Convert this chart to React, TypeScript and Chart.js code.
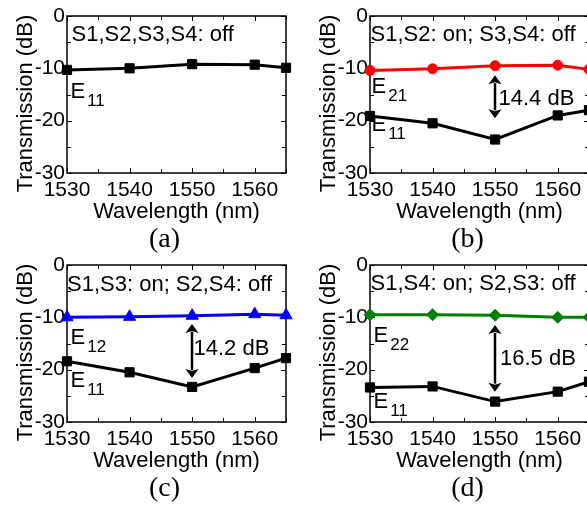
import React, { useEffect, useRef } from "react";
import { Chart, registerables } from "chart.js";

Chart.register(...registerables);

// ---------- data ----------
const wavelengths = [1530, 1540, 1550, 1560, 1565];
const xTickValues = [1530, 1540, 1550, 1560];
const yTickValues = [0, -10, -20, -30];

const aE11 = [-10.3, -10.0, -9.2, -9.3, -9.9];
const bE21 = [-10.4, -10.1, -9.5, -9.4, -10.2];
const bE11 = [-19.1, -20.5, -23.6, -19.0, -18.0];
const cE12 = [-10.0, -9.9, -9.7, -9.4, -9.6];
const cE11 = [-18.4, -20.5, -23.3, -19.7, -17.8];
const dE22 = [-9.5, -9.5, -9.6, -10.0, -10.0];
const dE11 = [-23.4, -23.2, -26.1, -24.2, -22.3];

const captions = ["(a)", "(b)", "(c)", "(d)"];
const conditions = [
  "S1,S2,S3,S4: off",
  "S1,S2: on; S3,S4: off",
  "S1,S3: on; S2,S4: off",
  "S1,S4: on; S2,S3: off",
];
const gapLabels = ["", "14.4 dB", "14.2 dB", "16.5 dB"];
const gapTop = [0, -11.3, -11.25, -11.45];
const gapBottom = [0, -19.55, -21.6, -24.2];

const X_MIN = 1530;
const X_MAX = 1565;
const Y_MIN = -30;
const Y_MAX = 0;

const SANS = "'Liberation Sans', Arial, sans-serif";
const SERIF = "'Liberation Serif', 'Times New Roman', serif";

type Series = {
  sub: string;
  values: number[];
  color: string;
  style: string;
  radius: number;
  labelAt: [number, number];
};

type Panel = {
  left: number;
  top: number;
  series: Series[];
  condAt: [number, number];
  gapAt: [number, number];
};

const panels: Panel[] = [
  {
    left: 0,
    top: 0,
    series: [
      { sub: "11", values: aE11, color: "#000000", style: "rect", radius: 6.5, labelAt: [1530.56, -15.67] },
    ],
    condAt: [1530.72, -4.87],
    gapAt: [0, 0],
  },
  {
    left: 303,
    top: 0,
    series: [
      { sub: "21", values: bE21, color: "#ff0000", style: "circle", radius: 5, labelAt: [1530.24, -14.7] },
      { sub: "11", values: bE11, color: "#000000", style: "rect", radius: 6.5, labelAt: [1530.24, -21.97] },
    ],
    condAt: [1530.08, -4.87],
    gapAt: [1550.54, -17.0],
  },
  {
    left: 0,
    top: 249,
    series: [
      { sub: "12", values: cE12, color: "#0000ff", style: "triangle", radius: 7, labelAt: [1530.56, -15.1] },
      { sub: "11", values: cE11, color: "#000000", style: "rect", radius: 6.5, labelAt: [1530.56, -23.3] },
    ],
    condAt: [1530.0, -5.06],
    gapAt: [1550.22, -17.2],
  },
  {
    left: 303,
    top: 249,
    series: [
      { sub: "22", values: dE22, color: "#008000", style: "rectRot", radius: 6, labelAt: [1530.56, -14.7] },
      { sub: "11", values: dE11, color: "#000000", style: "rect", radius: 6.5, labelAt: [1530.56, -27.3] },
    ],
    condAt: [1530.08, -4.78],
    gapAt: [1550.78, -19.1],
  },
];

const CANVAS_W = 300;
const CANVAS_H = 256;

function ChartPanel({ index }: { index: number }) {
  const ref = useRef<HTMLCanvasElement | null>(null);
  const panel = panels[index];

  useEffect(() => {
    const canvas = ref.current;
    if (!canvas) return;

    const decor = {
      id: "decor" + index,
      beforeDatasetsDraw(chart: any) {
        const ctx = chart.ctx as CanvasRenderingContext2D;
        const a = chart.chartArea;
        const xs = chart.scales.x;
        const ys = chart.scales.y;
        ctx.save();
        ctx.strokeStyle = "#000";
        ctx.lineWidth = 1.5;
        ctx.strokeRect(a.left, a.top, a.right - a.left, a.bottom - a.top);
        ctx.lineWidth = 1;
        ctx.beginPath();
        for (let v = X_MIN; v <= X_MAX; v += 5) {
          const px = Math.round(xs.getPixelForValue(v)) + 0.5;
          const len = v % 10 === 0 ? 5 : 4;
          ctx.moveTo(px, a.bottom);
          ctx.lineTo(px, a.bottom - len);
          ctx.moveTo(px, a.top);
          ctx.lineTo(px, a.top + len);
        }
        for (let v = Y_MAX; v >= Y_MIN; v -= 5) {
          const py = Math.round(ys.getPixelForValue(v)) + 0.5;
          const len = v % 10 === 0 ? 5 : 4;
          ctx.moveTo(a.left, py);
          ctx.lineTo(a.left + len, py);
          ctx.moveTo(a.right, py);
          ctx.lineTo(a.right - len, py);
        }
        ctx.stroke();
        ctx.restore();
      },
      afterDraw(chart: any) {
        const ctx = chart.ctx as CanvasRenderingContext2D;
        const a = chart.chartArea;
        const xs = chart.scales.x;
        const ys = chart.scales.y;
        ctx.save();
        ctx.fillStyle = "#000";
        ctx.strokeStyle = "#000";

        // y-axis title
        ctx.save();
        ctx.translate(32, (a.top + a.bottom) / 2 + 9);
        ctx.rotate(-Math.PI / 2);
        ctx.font = `22px ${SANS}`;
        ctx.textAlign = "center";
        ctx.textBaseline = "alphabetic";
        ctx.fillText("Transmission (dB)", 0, 0);
        ctx.restore();

        // condition text
        ctx.font = `22px ${SANS}`;
        ctx.textAlign = "left";
        ctx.textBaseline = "alphabetic";
        ctx.fillText(
          conditions[index],
          xs.getPixelForValue(panel.condAt[0]),
          ys.getPixelForValue(panel.condAt[1])
        );

        // series labels E_xx
        panel.series.forEach((s) => {
          const x = xs.getPixelForValue(s.labelAt[0]);
          const y = ys.getPixelForValue(s.labelAt[1]);
          ctx.font = `22px ${SANS}`;
          ctx.fillText("E", x, y);
          const w = ctx.measureText("E").width;
          ctx.font = `17px ${SANS}`;
          ctx.fillText(s.sub, x + w + 2, y + 8);
        });

        // gap arrow and label
        if (gapLabels[index]) {
          const x = Math.round(xs.getPixelForValue(1550));
          const y1 = ys.getPixelForValue(gapTop[index]);
          const y2 = ys.getPixelForValue(gapBottom[index]);
          const hw = 6.5;
          const hh = 9;
          ctx.lineWidth = 2.5;
          ctx.beginPath();
          ctx.moveTo(x, y1 + hh - 1);
          ctx.lineTo(x, y2 - hh + 1);
          ctx.stroke();
          ctx.beginPath();
          ctx.moveTo(x, y1);
          ctx.lineTo(x - hw, y1 + hh);
          ctx.lineTo(x, y1 + hh - 2);
          ctx.lineTo(x + hw, y1 + hh);
          ctx.closePath();
          ctx.fill();
          ctx.beginPath();
          ctx.moveTo(x, y2);
          ctx.lineTo(x - hw, y2 - hh);
          ctx.lineTo(x, y2 - hh + 2);
          ctx.lineTo(x + hw, y2 - hh);
          ctx.closePath();
          ctx.fill();
          ctx.font = `22px ${SANS}`;
          ctx.fillText(
            gapLabels[index],
            xs.getPixelForValue(panel.gapAt[0]),
            ys.getPixelForValue(panel.gapAt[1])
          );
        }

        // caption
        ctx.font = `28px ${SERIF}`;
        ctx.textAlign = "center";
        ctx.textBaseline = "middle";
        ctx.fillText(captions[index], (a.left + a.right) / 2 - 12, 240);
        ctx.restore();
      },
    };

    const datasets = panel.series.map((s) => ({
      data: wavelengths.map((x, i) => ({ x, y: s.values[i] })),
      borderColor: s.color,
      backgroundColor: s.color,
      borderWidth: 3,
      pointStyle: s.style,
      pointRadius: s.radius,
      pointBorderWidth: 1,
      pointBackgroundColor: s.color,
      pointBorderColor: s.color,
      tension: 0,
      clip: false as any,
    }));

    const chart = new Chart(canvas, {
      type: "line",
      data: { datasets },
      plugins: [decor],
      options: {
        animation: false,
        responsive: false,
        maintainAspectRatio: false,
        devicePixelRatio: 1,
        layout: { padding: { left: 0, top: 16, right: 14, bottom: CANVAS_H - 16 - 157 - 50 } },
        plugins: {
          legend: { display: false },
          tooltip: { enabled: false },
          title: { display: false },
        },
        scales: {
          x: {
            type: "linear",
            min: X_MIN,
            max: X_MAX,
            afterBuildTicks: (s: any) => {
              s.ticks = xTickValues.map((v) => ({ value: v }));
            },
            afterFit: (s: any) => {
              s.height = 50;
            },
            grid: { display: false, drawTicks: false },
            border: { display: false },
            ticks: {
              color: "#000",
              font: { family: SANS, size: 21, lineHeight: 1.2 },
              padding: 5,
              maxRotation: 0,
              autoSkip: false,
              callback: (v: any) => String(v),
            },
            title: {
              display: true,
              text: "Wavelength (nm)",
              color: "#000",
              font: { family: SANS, size: 22, lineHeight: 1 },
              padding: 0,
            },
          },
          y: {
            type: "linear",
            min: Y_MIN,
            max: Y_MAX,
            afterBuildTicks: (s: any) => {
              s.ticks = yTickValues.map((v) => ({ value: v }));
            },
            afterFit: (s: any) => {
              s.width = 67;
            },
            grid: { display: false, drawTicks: false },
            border: { display: false },
            ticks: {
              color: "#000",
              font: { family: SANS, size: 21, lineHeight: 1.2 },
              padding: 2,
              autoSkip: false,
              callback: (v: any) => String(v),
            },
          },
        },
      } as any,
    });

    return () => chart.destroy();
  }, [index]);

  return (
    <canvas
      ref={ref}
      width={CANVAS_W}
      height={CANVAS_H}
      style={{
        position: "absolute",
        left: panel.left,
        top: panel.top,
        width: CANVAS_W,
        height: CANVAS_H,
        display: "block",
      }}
    />
  );
}

export default function App() {
  return (
    <div
      style={{
        position: "absolute",
        left: 0,
        top: 0,
        width: 587,
        height: 506,
        overflow: "hidden",
        background: "#ffffff",
      }}
    >
      {panels.map((_, i) => (
        <ChartPanel key={i} index={i} />
      ))}
    </div>
  );
}
